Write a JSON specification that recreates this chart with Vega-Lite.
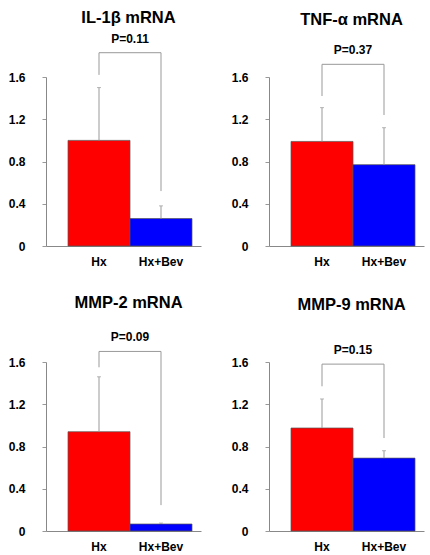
{
  "$schema": "https://vega.github.io/schema/vega-lite/v6.json",
  "padding": {"left": 8, "top": 10, "right": 5, "bottom": 5},
  "background": "white",
  "data": {"values": [
    {"panel": "IL-1β mRNA", "group": "Hx", "value": 1.0, "err": 1.5, "bracket": 1.83, "leg": 1.62, "p": "P=0.11"},
    {"panel": "IL-1β mRNA", "group": "Hx+Bev", "value": 0.26, "err": 0.38, "bracket": 1.83, "leg": 0.52},
    {"panel": "TNF-α mRNA", "group": "Hx", "value": 0.99, "err": 1.31, "bracket": 1.72, "leg": 1.42, "p": "P=0.37"},
    {"panel": "TNF-α mRNA", "group": "Hx+Bev", "value": 0.77, "err": 1.12, "bracket": 1.72, "leg": 1.24},
    {"panel": "MMP-2 mRNA", "group": "Hx", "value": 0.94, "err": 1.46, "bracket": 1.7, "leg": 1.55, "p": "P=0.09"},
    {"panel": "MMP-2 mRNA", "group": "Hx+Bev", "value": 0.066, "err": 0.075, "bracket": 1.7, "leg": 0.245},
    {"panel": "MMP-9 mRNA", "group": "Hx", "value": 0.975, "err": 1.25, "bracket": 1.58, "leg": 1.37, "p": "P=0.15"},
    {"panel": "MMP-9 mRNA", "group": "Hx+Bev", "value": 0.69, "err": 0.76, "bracket": 1.58, "leg": 0.88}
  ]},
  "columns": 2,
  "bounds": "flush",
  "spacing": {"column": 68, "row": 116},
  "concat": [
    {
      "title": {"text": "IL-1β mRNA", "offset": 6},
      "width": 155, "height": 169,
      "transform": [{"filter": "datum.panel == 'IL-1β mRNA'"}],
      "encoding": {"x": {"field": "group", "type": "nominal", "sort": ["Hx", "Hx+Bev"], "scale": {"paddingInner": 0, "paddingOuter": 0.25, "align": 0.71}, "axis": {"title": null}}},
      "layer": [
        {"mark": {"type": "bar", "stroke": "#555555", "strokeWidth": 0.7},
          "encoding": {
            "y": {"field": "value", "type": "quantitative", "scale": {"domain": [0, 1.6], "nice": false}, "axis": {"title": null, "values": [0, 0.1, 0.2, 0.3, 0.4, 0.5, 0.6, 0.7, 0.8, 0.9, 1.0, 1.1, 1.2, 1.3, 1.4, 1.5, 1.6]}},
            "color": {"field": "group", "type": "nominal", "scale": {"domain": ["Hx", "Hx+Bev"], "range": ["#ff0000", "#0000ff"]}, "legend": null}}},
        {"mark": {"type": "rule", "color": "#999999", "strokeWidth": 1}, "encoding": {"y": {"field": "value", "type": "quantitative"}, "y2": {"field": "err"}}},
        {"mark": {"type": "tick", "color": "#999999", "thickness": 1, "size": 4, "orient": "horizontal"}, "encoding": {"y": {"field": "err", "type": "quantitative"}}},
        {"mark": {"type": "rule", "color": "#999999", "strokeWidth": 1}, "encoding": {"y": {"field": "bracket", "type": "quantitative"}, "y2": {"field": "leg"}}},
        {"mark": {"type": "line", "color": "#999999", "strokeWidth": 1}, "encoding": {"y": {"field": "bracket", "type": "quantitative"}}},
        {"transform": [{"filter": "datum.p != null"}],
          "mark": {"type": "text", "font": "Liberation Sans", "fontSize": 12, "fontWeight": "bold", "color": "black", "baseline": "middle", "dy": -14},
          "encoding": {"x": {"field": "group", "type": "nominal", "sort": ["Hx", "Hx+Bev"], "bandPosition": 1}, "y": {"field": "bracket", "type": "quantitative"}, "text": {"field": "p"}}}
      ]
    },
    {
      "title": {"text": "TNF-α mRNA", "offset": 16},
      "width": 155, "height": 169,
      "transform": [{"filter": "datum.panel == 'TNF-α mRNA'"}],
      "encoding": {"x": {"field": "group", "type": "nominal", "sort": ["Hx", "Hx+Bev"], "scale": {"paddingInner": 0, "paddingOuter": 0.25, "align": 0.71}, "axis": {"title": null}}},
      "layer": [
        {"mark": {"type": "bar", "stroke": "#555555", "strokeWidth": 0.7},
          "encoding": {
            "y": {"field": "value", "type": "quantitative", "scale": {"domain": [0, 1.6], "nice": false}, "axis": {"title": null, "values": [0, 0.1, 0.2, 0.3, 0.4, 0.5, 0.6, 0.7, 0.8, 0.9, 1.0, 1.1, 1.2, 1.3, 1.4, 1.5, 1.6]}},
            "color": {"field": "group", "type": "nominal", "scale": {"domain": ["Hx", "Hx+Bev"], "range": ["#ff0000", "#0000ff"]}, "legend": null}}},
        {"mark": {"type": "rule", "color": "#999999", "strokeWidth": 1}, "encoding": {"y": {"field": "value", "type": "quantitative"}, "y2": {"field": "err"}}},
        {"mark": {"type": "tick", "color": "#999999", "thickness": 1, "size": 4, "orient": "horizontal"}, "encoding": {"y": {"field": "err", "type": "quantitative"}}},
        {"mark": {"type": "rule", "color": "#999999", "strokeWidth": 1}, "encoding": {"y": {"field": "bracket", "type": "quantitative"}, "y2": {"field": "leg"}}},
        {"mark": {"type": "line", "color": "#999999", "strokeWidth": 1}, "encoding": {"y": {"field": "bracket", "type": "quantitative"}}},
        {"transform": [{"filter": "datum.p != null"}],
          "mark": {"type": "text", "font": "Liberation Sans", "fontSize": 12, "fontWeight": "bold", "color": "black", "baseline": "middle", "dy": -14},
          "encoding": {"x": {"field": "group", "type": "nominal", "sort": ["Hx", "Hx+Bev"], "bandPosition": 1}, "y": {"field": "bracket", "type": "quantitative"}, "text": {"field": "p"}}}
      ]
    },
    {
      "title": {"text": "MMP-2 mRNA", "offset": 20},
      "width": 155, "height": 169,
      "transform": [{"filter": "datum.panel == 'MMP-2 mRNA'"}],
      "encoding": {"x": {"field": "group", "type": "nominal", "sort": ["Hx", "Hx+Bev"], "scale": {"paddingInner": 0, "paddingOuter": 0.25, "align": 0.71}, "axis": {"title": null}}},
      "layer": [
        {"mark": {"type": "bar", "stroke": "#555555", "strokeWidth": 0.7},
          "encoding": {
            "y": {"field": "value", "type": "quantitative", "scale": {"domain": [0, 1.6], "nice": false}, "axis": {"title": null, "values": [0, 0.1, 0.2, 0.3, 0.4, 0.5, 0.6, 0.7, 0.8, 0.9, 1.0, 1.1, 1.2, 1.3, 1.4, 1.5, 1.6]}},
            "color": {"field": "group", "type": "nominal", "scale": {"domain": ["Hx", "Hx+Bev"], "range": ["#ff0000", "#0000ff"]}, "legend": null}}},
        {"mark": {"type": "rule", "color": "#999999", "strokeWidth": 1}, "encoding": {"y": {"field": "value", "type": "quantitative"}, "y2": {"field": "err"}}},
        {"mark": {"type": "tick", "color": "#999999", "thickness": 1, "size": 4, "orient": "horizontal"}, "encoding": {"y": {"field": "err", "type": "quantitative"}}},
        {"mark": {"type": "rule", "color": "#999999", "strokeWidth": 1}, "encoding": {"y": {"field": "bracket", "type": "quantitative"}, "y2": {"field": "leg"}}},
        {"mark": {"type": "line", "color": "#999999", "strokeWidth": 1}, "encoding": {"y": {"field": "bracket", "type": "quantitative"}}},
        {"transform": [{"filter": "datum.p != null"}],
          "mark": {"type": "text", "font": "Liberation Sans", "fontSize": 12, "fontWeight": "bold", "color": "black", "baseline": "middle", "dy": -14},
          "encoding": {"x": {"field": "group", "type": "nominal", "sort": ["Hx", "Hx+Bev"], "bandPosition": 1}, "y": {"field": "bracket", "type": "quantitative"}, "text": {"field": "p"}}}
      ]
    },
    {
      "title": {"text": "MMP-9 mRNA", "offset": 31},
      "width": 155, "height": 169,
      "transform": [{"filter": "datum.panel == 'MMP-9 mRNA'"}],
      "encoding": {"x": {"field": "group", "type": "nominal", "sort": ["Hx", "Hx+Bev"], "scale": {"paddingInner": 0, "paddingOuter": 0.25, "align": 0.71}, "axis": {"title": null}}},
      "layer": [
        {"mark": {"type": "bar", "stroke": "#555555", "strokeWidth": 0.7},
          "encoding": {
            "y": {"field": "value", "type": "quantitative", "scale": {"domain": [0, 1.6], "nice": false}, "axis": {"title": null, "values": [0, 0.1, 0.2, 0.3, 0.4, 0.5, 0.6, 0.7, 0.8, 0.9, 1.0, 1.1, 1.2, 1.3, 1.4, 1.5, 1.6]}},
            "color": {"field": "group", "type": "nominal", "scale": {"domain": ["Hx", "Hx+Bev"], "range": ["#ff0000", "#0000ff"]}, "legend": null}}},
        {"mark": {"type": "rule", "color": "#999999", "strokeWidth": 1}, "encoding": {"y": {"field": "value", "type": "quantitative"}, "y2": {"field": "err"}}},
        {"mark": {"type": "tick", "color": "#999999", "thickness": 1, "size": 4, "orient": "horizontal"}, "encoding": {"y": {"field": "err", "type": "quantitative"}}},
        {"mark": {"type": "rule", "color": "#999999", "strokeWidth": 1}, "encoding": {"y": {"field": "bracket", "type": "quantitative"}, "y2": {"field": "leg"}}},
        {"mark": {"type": "line", "color": "#999999", "strokeWidth": 1}, "encoding": {"y": {"field": "bracket", "type": "quantitative"}}},
        {"transform": [{"filter": "datum.p != null"}],
          "mark": {"type": "text", "font": "Liberation Sans", "fontSize": 12, "fontWeight": "bold", "color": "black", "baseline": "middle", "dy": -14},
          "encoding": {"x": {"field": "group", "type": "nominal", "sort": ["Hx", "Hx+Bev"], "bandPosition": 1}, "y": {"field": "bracket", "type": "quantitative"}, "text": {"field": "p"}}}
      ]
    }
  ],
  "config": {
    "view": {"stroke": null},
    "title": {"font": "Liberation Sans", "fontSize": 16.5, "fontWeight": "bold", "color": "black", "anchor": "middle", "frame": "group", "dx": 5},
    "axisX": {"ticks": false, "labelAngle": 0, "labelFont": "Liberation Sans", "labelFontSize": 12, "labelFontWeight": "bold", "labelColor": "black", "labelPadding": 10, "domainColor": "#888888", "domainWidth": 1, "grid": false},
    "axisY": {"grid": false, "tickSize": 4, "tickColor": "#999999", "domainColor": "#888888", "domainWidth": 1, "labelPadding": 17, "labelFont": "Liberation Sans", "labelFontSize": 12, "labelFontWeight": "bold", "labelColor": "black",
      "labelExpr": "round(datum.value*10) % 4 == 0 ? (datum.value == 0 ? '0' : format(datum.value, '.1f')) : ''"}
  }
}
